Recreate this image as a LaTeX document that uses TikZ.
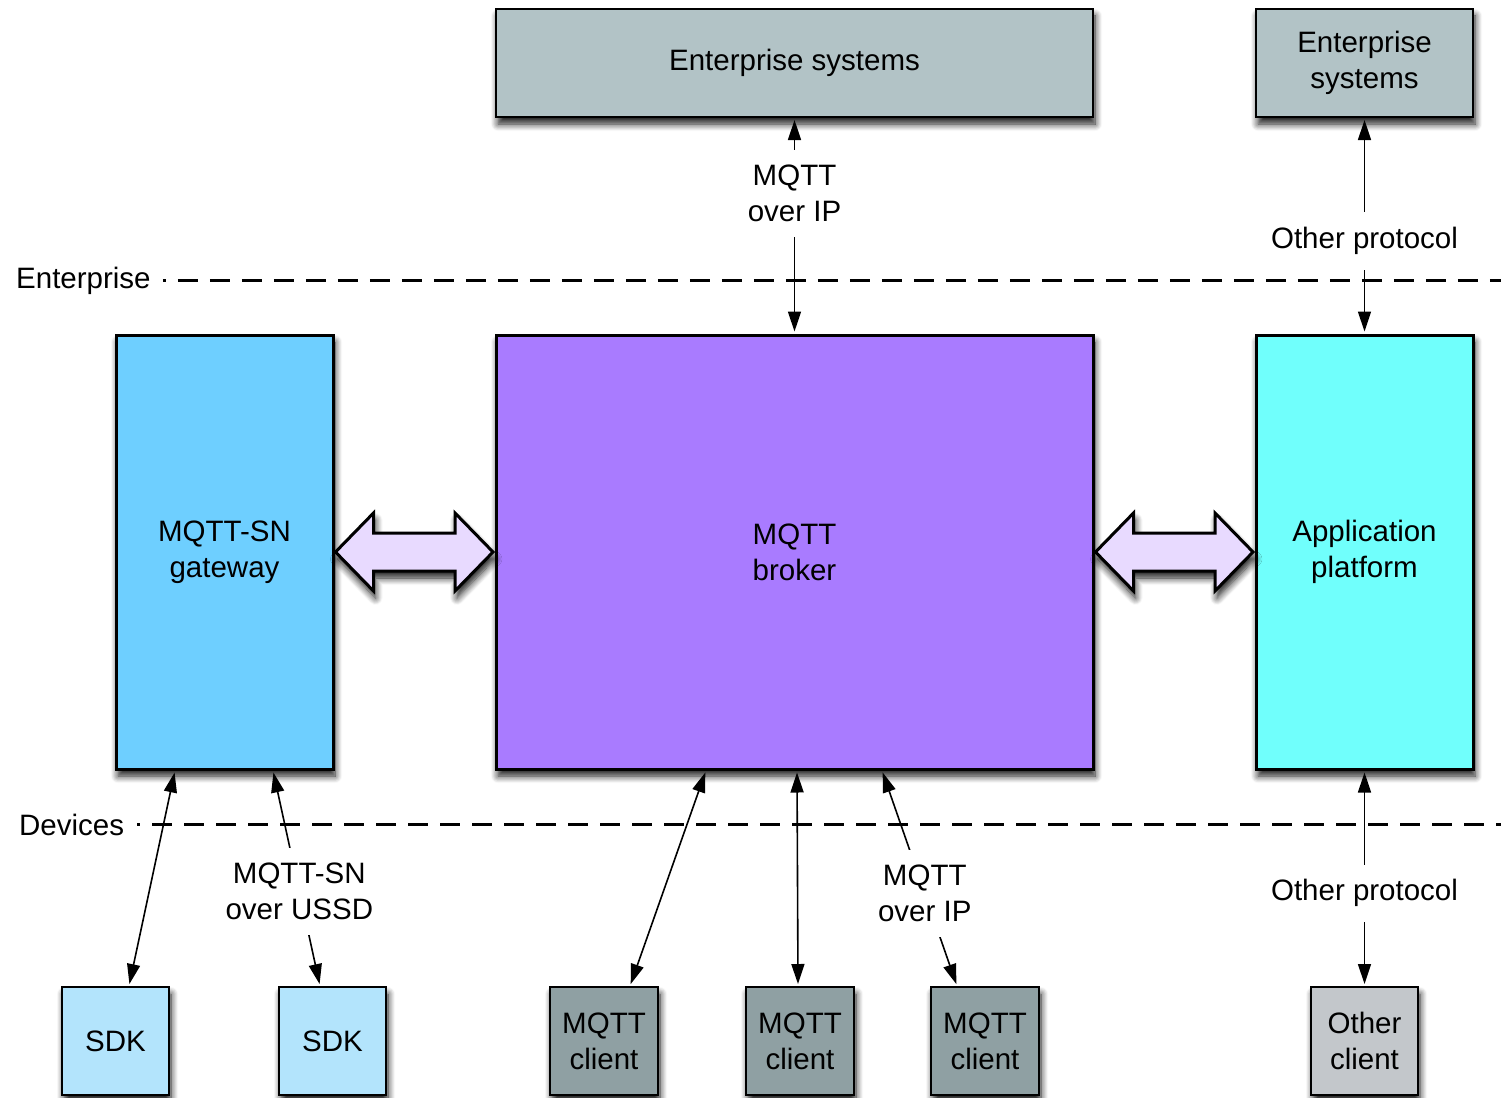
\documentclass[tikz,border=0pt]{standalone}
\usepackage{fontspec}
\setmainfont{Liberation Sans}
\usetikzlibrary{arrows.meta,shadows.blur,calc}

\definecolor{entfill}{HTML}{B2C3C6}
\definecolor{gwfill}{HTML}{6ECFFF}
\definecolor{brokerfill}{HTML}{A97BFF}
\definecolor{appfill}{HTML}{70FFFC}
\definecolor{linkfill}{HTML}{E8DAFF}
\definecolor{sdkfill}{HTML}{B3E4FC}
\definecolor{clientfill}{HTML}{8FA0A3}
\definecolor{otherfill}{HTML}{C3C7CB}

\tikzset{
  ctip/.tip={Triangle[length=20pt, width=13pt, fill=black, color=black]},
  softshadow/.style={blur shadow={shadow xshift=2pt, shadow yshift=-7pt,
      shadow blur radius=7pt, shadow blur steps=8, shadow opacity=90}},
  box/.style={draw=black, line width=2pt, align=center, inner sep=0pt, softshadow},
  bigbox/.style={box, line width=3pt},
  conn/.style={draw=black, line width=1.6pt, ctip-ctip,
      shorten <=2pt, shorten >=2pt},
  lab/.style={fill=white, align=center, inner xsep=3pt, inner ysep=15pt},
  sepline/.style={line width=3pt, dash pattern=on 20pt off 12pt, dash phase=17pt},
  biarrow/.style={draw=black, fill=linkfill, line width=3pt, line join=miter, softshadow},
}

\begin{document}
\begin{tikzpicture}[x=1pt, y=-1pt, font=\fontsize{29.5}{36}\selectfont]
\useasboundingbox (0,0) rectangle (1501,1097);

% zone separators
\node[anchor=west, inner sep=0pt] (entzone) at (16,281) {Enterprise};
\node[anchor=west, inner sep=0pt] (devzone) at (19,825) {Devices};
\coordinate (entend) at (1501,280);
\coordinate (devend) at (1501,824);
\draw[sepline] ([xshift=12pt,yshift=1pt]entzone.east) -- (entend);
\draw[sepline] ([xshift=13pt,yshift=1pt]devzone.east) -- (devend);

% enterprise systems
\node[box, fill=entfill, minimum width=597pt, minimum height=108pt] (ent1) at (794.5,63) {Enterprise systems};
\node[box, fill=entfill, minimum width=217pt, minimum height=108pt] (ent2) at (1364.5,63) {Enterprise\\systems};

% middle tier
\node[bigbox, fill=gwfill, minimum width=217pt, minimum height=434pt] (gw) at (224.5,552) {MQTT-SN\\gateway};
\node[bigbox, fill=brokerfill, minimum width=597pt, minimum height=434pt] (broker) at (794.5,552) {MQTT\\broker};
\node[bigbox, fill=appfill, minimum width=217pt, minimum height=434pt] (app) at (1364.5,552) {Application\\platform};

% devices
\node[box, fill=sdkfill, minimum width=107pt, minimum height=108pt] (sdk1) at (115.5,1041) {SDK};
\node[box, fill=sdkfill, minimum width=107pt, minimum height=108pt] (sdk2) at (332.5,1041) {SDK};
\node[box, fill=clientfill, minimum width=108pt, minimum height=108pt] (mc1) at (604,1041) {MQTT\\client};
\node[box, fill=clientfill, minimum width=108pt, minimum height=108pt] (mc2) at (800,1041) {MQTT\\client};
\node[box, fill=clientfill, minimum width=108pt, minimum height=108pt] (mc3) at (985,1041) {MQTT\\client};
\node[box, fill=otherfill, minimum width=107pt, minimum height=108pt] (oc) at (1364.5,1041) {Other\\client};

% wide links between the middle-tier blocks
\coordinate (la) at ([xshift=1pt]gw.east);
\coordinate (lb) at ([xshift=-1.5pt]broker.west);
\path[biarrow] (la) -- ($(la)+(38,-39)$) -- ($(la)+(38,-19)$) -- ($(lb)+(-38,-19)$)
  -- ($(lb)+(-38,-39)$) -- (lb) -- ($(lb)+(-38,39)$) -- ($(lb)+(-38,19)$)
  -- ($(la)+(38,19)$) -- ($(la)+(38,39)$) -- cycle;
\coordinate (ra) at ([xshift=1pt]broker.east);
\coordinate (rb) at ([xshift=-1.5pt]app.west);
\path[biarrow] (ra) -- ($(ra)+(38,-39)$) -- ($(ra)+(38,-19)$) -- ($(rb)+(-38,-19)$)
  -- ($(rb)+(-38,-39)$) -- (rb) -- ($(rb)+(-38,39)$) -- ($(rb)+(-38,19)$)
  -- ($(ra)+(38,19)$) -- ($(ra)+(38,39)$) -- cycle;

% protocol links
\draw[conn] (broker.north) -- node[lab, pos=0.65] {MQTT\\over IP} (ent1.south);
\draw[conn] (app.north) -- node[lab, pos=0.43] {Other protocol} (ent2.south);

\draw[conn] ([xshift=-49.5pt]gw.south) -- ([xshift=13.5pt]sdk1.north);
\draw[conn] ([xshift=48.5pt]gw.south) -- node[lab, pos=0.56] {MQTT-SN\\over USSD} ([xshift=-12.5pt]sdk2.north);
\draw[conn] ([xshift=-88.5pt]broker.south) -- ([xshift=26pt]mc1.north);
\draw[conn] ([xshift=2.5pt]broker.south) -- ([xshift=-2pt]mc2.north);
\draw[conn] ([xshift=87.5pt]broker.south) -- node[lab, pos=0.57] {MQTT\\over IP} ([xshift=-28pt]mc3.north);
\draw[conn] (app.south) -- node[lab, pos=0.57] {Other protocol} (oc.north);

\end{tikzpicture}
\end{document}
